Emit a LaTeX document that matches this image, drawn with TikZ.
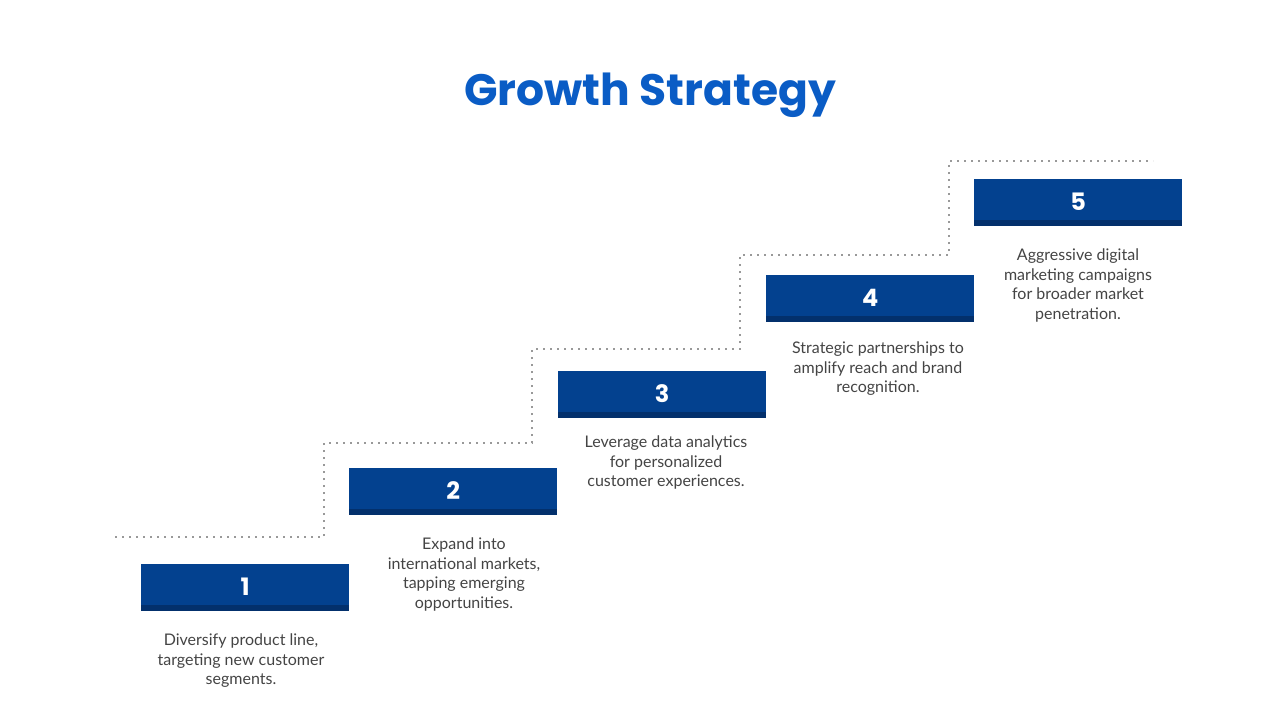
\documentclass[tikz,border=0pt]{standalone}
\usepackage{fontspec}
\setmainfont{Poppins}
\newfontfamily\bodyfont{Lato}
\definecolor{titleblue}{HTML}{0A5CC5}
\definecolor{boxblue}{HTML}{03418F}
\definecolor{boxdark}{HTML}{03306C}
\definecolor{txtgray}{HTML}{444444}
\definecolor{dotgray}{HTML}{999999}
\tikzset{
  stepbox/.style={fill=boxblue, draw=none, minimum width=208pt, minimum height=47pt, inner sep=0pt, anchor=north west,
    font=\fontsize{24pt}{28pt}\selectfont\bfseries, text=white},
  desc/.style={align=center, text=txtgray, font=\bodyfont\fontsize{16pt}{19.5pt}\selectfont, anchor=north, inner sep=0pt},
  dotline/.style={dotgray, line width=1.8pt, dash pattern=on 1.8pt off 5.2pt}
}
\begin{document}
\begin{tikzpicture}[x=1pt,y=-1pt]
\useasboundingbox (0,0) rectangle (1280,720);
\node[font=\fontsize{44pt}{50pt}\selectfont\bfseries, text=titleblue] (title) at (650,95) {Growth Strategy};
\draw[dotline] (115,537) -- (324,537) -- (324,443) -- (532,443) -- (532,349) -- (740,349) -- (740,255) -- (949,255) -- (949,161) -- (1153,161);
\foreach \i/\x/\y in {1/141/564, 2/349/468, 3/558/371, 4/766/275, 5/974/179}{
  \node[stepbox] (b\i) at (\x,\y) {\raisebox{2pt}{\i}};
  \fill[boxdark] (\x,\y+41) rectangle (\x+208,\y+47);
}
\node[desc] (d1) at (241,634) {Diversify product line,\\targeting new customer\\segments.};
\node[desc] (d2) at (464,538) {Expand into\\international markets,\\tapping emerging\\opportunities.};
\node[desc] (d3) at (666,436) {Leverage data analytics\\for personalized\\customer experiences.};
\node[desc] (d4) at (878,342) {Strategic partnerships to\\amplify reach and brand\\recognition.};
\node[desc] (d5) at (1078,249) {Aggressive digital\\marketing campaigns\\for broader market\\penetration.};
\end{tikzpicture}
\end{document}
